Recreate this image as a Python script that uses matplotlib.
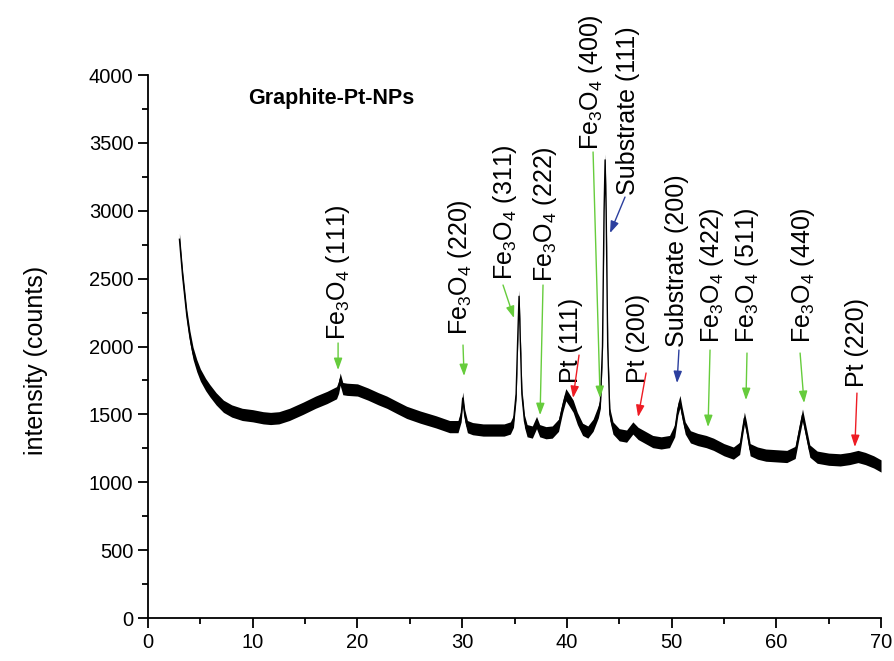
import matplotlib
matplotlib.use("Agg")
import matplotlib.pyplot as plt
from matplotlib import ticker
import numpy as np

plt.rcParams['font.family'] = ['Liberation Sans', 'DejaVu Sans']
plt.rcParams['mathtext.fontset'] = 'custom'
plt.rcParams['mathtext.rm'] = 'Liberation Sans'
plt.rcParams['mathtext.it'] = 'Liberation Sans:italic'

# 2theta (deg) and centre of the noisy trace (counts)
two_theta = [3.0, 3.3, 3.7, 4.0, 4.3, 4.65, 5.0, 5.5, 5.9, 6.5, 7.2, 8.0, 9.0, 10.0,
             11.0, 11.7, 12.5, 13.5, 14.8, 16.0, 17.1, 18.0, 18.2, 18.35, 18.6, 19.0,
             20.0, 21.0, 22.0, 22.8, 23.8, 24.7, 26.0, 27.5, 28.8, 29.6, 29.9, 30.05,
             30.25, 30.5, 31.0, 32.0, 33.0, 34.0, 34.6, 34.9, 35.15, 35.3, 35.43, 35.55,
             35.7, 35.95, 36.2, 36.7, 37.1, 37.4, 38.0, 38.6, 39.2, 39.6, 39.9, 40.2,
             40.6, 41.0, 41.5, 42.0, 42.5, 43.0, 43.2, 43.4, 43.55, 43.65, 43.75, 43.9,
             44.1, 44.4, 45.0, 45.7, 46.3, 46.8, 47.5, 48.2, 49.0, 49.8, 50.3, 50.6,
             50.8, 51.0, 51.3, 51.8, 52.5, 53.3, 54.0, 55.0, 55.9, 56.5, 56.8, 56.95,
             57.15, 57.5, 58.2, 59.0, 60.0, 61.0, 61.8, 62.2, 62.5, 62.8, 63.2, 63.9,
             65.0, 66.1, 67.0, 67.8, 68.5, 69.3, 70.0]
intensity = [2790, 2520, 2230, 2070, 1950, 1860, 1790, 1720, 1675, 1615, 1560, 1525, 1500, 1490,
             1475, 1470, 1475, 1500, 1545, 1590, 1625, 1660, 1700, 1760, 1690, 1685,
             1680, 1650, 1615, 1590, 1550, 1515, 1480, 1445, 1410, 1410, 1490, 1620,
             1490, 1410, 1395, 1385, 1385, 1385, 1400, 1450, 1650, 2050, 2370, 2050,
             1650, 1450, 1380, 1370, 1440, 1380, 1365, 1370, 1420, 1560, 1645, 1610,
             1560, 1470, 1390, 1370, 1420, 1520, 1590, 2000, 3000, 3375, 3000, 2000,
             1500, 1400, 1350, 1340, 1400, 1360, 1330, 1300, 1290, 1300, 1380, 1540,
             1595, 1510, 1400, 1335, 1315, 1300, 1280, 1240, 1215, 1250, 1400, 1472,
             1400, 1240, 1215, 1200, 1195, 1190, 1220, 1380, 1495, 1380, 1230, 1185,
             1170, 1165, 1175, 1190, 1175, 1150, 1120]
noise_halfwidth = 45

fe3o4 = r'Fe$_\mathregular{3}$O$_\mathregular{4}$'
peak_labels = [fe3o4 + ' (111)', fe3o4 + ' (220)', fe3o4 + ' (311)', fe3o4 + ' (222)',
               'Pt (111)', fe3o4 + ' (400)', 'Substrate (111)', 'Pt (200)',
               'Substrate (200)', fe3o4 + ' (422)', fe3o4 + ' (511)', fe3o4 + ' (440)',
               'Pt (220)']
label_kind = ['Fe', 'Fe', 'Fe', 'Fe', 'Pt', 'Fe', 'Sub', 'Pt', 'Sub', 'Fe', 'Fe', 'Fe', 'Pt']
# text anchor (x, bottom y), arrow tail, arrow head
label_pos = [(18.15, 2048), (29.8, 2085), (34.1, 2490), (37.9, 2475), (40.4, 1731),
             (42.3, 3447), (45.84, 3116), (46.8, 1731), (50.52, 1996), (53.86, 2026),
             (57.2, 2026), (62.55, 2026), (67.7, 1702)]
arrow_tail = [(18.15, 2026), (30.08, 2011), (33.9, 2453), (37.72, 2453), (41.16, 1937),
              (42.5, 3433), (45.55, 3101), (47.56, 1805), (50.7, 1974), (53.67, 1974),
              (57.2, 1952), (62.27, 1952), (67.7, 1657)]
arrow_head = [(18.15, 1827), (30.18, 1783), (34.95, 2210), (37.44, 1495), (40.59, 1621),
              (43.17, 1621), (44.12, 2836), (46.8, 1481), (50.52, 1731), (53.48, 1407),
              (57.1, 1606), (62.65, 1584), (67.5, 1260)]
kind_colors = {'Fe': '#66cc3c', 'Pt': '#ee1c24', 'Sub': '#2b3f9e'}

fig = plt.figure(figsize=(8.95, 6.61), dpi=100)
ax = fig.add_axes([0.1654, 0.065, 0.819, 0.8215])

x = np.array(two_theta)
y = np.array(intensity)
ax.fill_between(x, y - noise_halfwidth, y + noise_halfwidth, color='black', lw=0)
ax.plot(x, y, color='black', lw=1.0)

for lab, kind, pos, tail, head in zip(peak_labels, label_kind, label_pos, arrow_tail, arrow_head):
    ax.text(pos[0], pos[1], lab, rotation=90, ha='center', va='bottom', fontsize=18)
    ax.annotate('', xy=head, xytext=tail,
                arrowprops=dict(arrowstyle='-|>,head_length=0.7,head_width=0.25',
                                color=kind_colors[kind], lw=1.0, mutation_scale=10,
                                shrinkA=0, shrinkB=0))

ax.text(17.5, 3830, 'Graphite-Pt-NPs', fontsize=15.5, fontweight='bold', ha='center', va='center')

ax.set_xlim(0, 70)
ax.set_ylim(0, 4000)
ax.xaxis.set_major_locator(ticker.MultipleLocator(10))
ax.xaxis.set_minor_locator(ticker.MultipleLocator(5))
ax.yaxis.set_major_locator(ticker.MultipleLocator(500))
ax.yaxis.set_minor_locator(ticker.MultipleLocator(250))
ax.tick_params(which='major', direction='out', length=7, width=1.3, labelsize=14.5)
ax.tick_params(which='minor', direction='out', length=4, width=1.3)
ax.spines['top'].set_visible(False)
ax.spines['right'].set_visible(False)
ax.spines['left'].set_linewidth(1.3)
ax.spines['bottom'].set_linewidth(1.3)
ax.set_ylabel('intensity (counts)', fontsize=18)
ax.yaxis.set_label_coords(-0.136, 0.475)

fig.savefig('out.png', dpi=100)
